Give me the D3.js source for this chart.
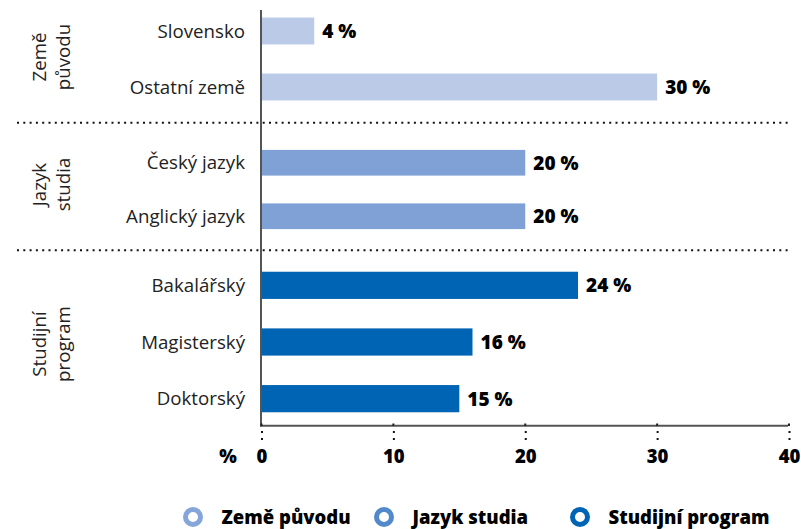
<!DOCTYPE html>
<html>
<head>
<meta charset="utf-8">
<script src="https://cdn.jsdelivr.net/npm/d3@7"></script>
<style>
  html, body { margin: 0; padding: 0; background: #fff; }
  svg { display: block; }
  text { font-family: "Open Sans", "Noto Sans", sans-serif; }
</style>
</head>
<body>
<svg id="chart" width="801" height="529"></svg>
<script>
// ---- data ----
const groups = ["Země původu", "Jazyk studia", "Studijní program"];
const groupLabelLines = [["Země", "původu"], ["Jazyk", "studia"], ["Studijní", "program"]];
const categories = ["Slovensko", "Ostatní země", "Český jazyk", "Anglický jazyk", "Bakalářský", "Magisterský", "Doktorský"];
const categoryGroup = [0, 0, 1, 1, 2, 2, 2];
const values = [4, 30, 20, 20, 24, 16, 15];
const xTicks = [0, 10, 20, 30, 40];
const axisUnit = "%";

// ---- styles ----
const barColors = ["#bacae7", "#7fa1d5", "#0064b4"];
const legendColors = ["#86a5d9", "#5289cb", "#0064b4"];

const svg = d3.select("#chart");

const x = d3.scaleLinear().domain([0, 40]).range([261.5, 789]);

const groupRanges = [[3, 115], [136, 243], [257, 427]];
const yScales = groups.map((g, gi) =>
  d3.scaleBand()
    .domain(categories.filter((c, i) => categoryGroup[i] === gi))
    .range(groupRanges[gi])
    .paddingInner(0.52)
    .paddingOuter(0.26)
);
const yOf = i => yScales[categoryGroup[i]](categories[i]);
const bw = i => yScales[categoryGroup[i]].bandwidth();

// separators
const sepYs = [122.7, 250.3];
svg.selectAll("line.sep").data(sepYs).enter().append("line")
  .attr("class", "sep")
  .attr("x1", 17).attr("x2", 790)
  .attr("y1", d => d).attr("y2", d => d)
  .attr("stroke", "#111").attr("stroke-width", 2)
  .attr("stroke-dasharray", "2 4.3");

// bars
svg.selectAll("rect.bar").data(values).enter().append("rect")
  .attr("class", "bar")
  .attr("x", x(0) + 0.5)
  .attr("y", (d, i) => yOf(i))
  .attr("width", d => x(d) - x(0) - 0.5)
  .attr("height", (d, i) => bw(i))
  .attr("fill", (d, i) => barColors[categoryGroup[i]]);

// value labels
svg.selectAll("text.val").data(values).enter().append("text")
  .attr("class", "val")
  .attr("x", d => x(d) + 8)
  .attr("y", (d, i) => yOf(i) + bw(i) / 2)
  .attr("dy", "0.36em")
  .attr("font-size", 19)
  .attr("font-weight", 800)
  .attr("fill", "#000")
  .text(d => d + " %");

// category labels
svg.selectAll("text.cat").data(categories).enter().append("text")
  .attr("class", "cat")
  .attr("x", 245)
  .attr("y", (d, i) => yOf(i) + bw(i) / 2)
  .attr("dy", "0.36em")
  .attr("text-anchor", "end")
  .attr("font-size", 18.7)
  .attr("fill", "#222")
  .text(d => d);

// group labels (rotated)
const groupNudge = [-2, -5, 2];
groups.forEach((g, gi) => {
  const dom = yScales[gi].domain();
  const sc = yScales[gi];
  const cy = (sc(dom[0]) + sc(dom[dom.length - 1]) + sc.bandwidth()) / 2 + groupNudge[gi];
  const t = svg.append("text")
    .attr("transform", `translate(46,${cy}) rotate(-90)`)
    .attr("text-anchor", "middle")
    .attr("font-size", 18.7)
    .attr("fill", "#222");
  groupLabelLines[gi].forEach((ln, li) => {
    t.append("tspan").attr("x", 0).attr("y", li * 24).text(ln);
  });
});

// vertical axis line
svg.append("line")
  .attr("x1", 261).attr("x2", 261)
  .attr("y1", 10).attr("y2", 426.5)
  .attr("stroke", "#555").attr("stroke-width", 2);

// bottom axis line
svg.append("line")
  .attr("x1", 260).attr("x2", x(40) - 1)
  .attr("y1", 425.7).attr("y2", 425.7)
  .attr("stroke", "#555").attr("stroke-width", 2);

// bottom axis (d3)
const xAxis = d3.axisBottom(x).tickValues(xTicks).tickSize(10).tickPadding(0);
const ax = svg.append("g").attr("transform", "translate(0,431)").call(xAxis);
ax.select(".domain").remove();
ax.selectAll(".tick line")
  .attr("stroke", "#111").attr("stroke-width", 2)
  .attr("stroke-dasharray", "2 5");
ax.selectAll(".tick text")
  .attr("y", 32).attr("dy", 0)
  .attr("font-family", "'Open Sans', sans-serif")
  .attr("font-size", 18.5)
  .attr("font-weight", 800)
  .attr("fill", "#000");
// small marks on axis line
svg.selectAll("rect.tm").data(xTicks).enter().append("rect")
  .attr("class", "tm")
  .attr("x", d => x(d) - 1).attr("y", 423.5)
  .attr("width", 2).attr("height", 2.5)
  .attr("fill", "#222");

// unit label
svg.append("text")
  .attr("x", 228).attr("y", 463)
  .attr("text-anchor", "middle")
  .attr("font-size", 18.5).attr("font-weight", 800)
  .attr("fill", "#000")
  .text(axisUnit);

// legend
const legendX = [193, 384, 580];
const lg = svg.selectAll("g.leg").data(groups).enter().append("g")
  .attr("class", "leg")
  .attr("transform", (d, i) => `translate(${legendX[i]},517)`);
lg.append("circle")
  .attr("r", 7.5)
  .attr("fill", "none")
  .attr("stroke", (d, i) => legendColors[i])
  .attr("stroke-width", 5);
lg.append("text")
  .attr("x", 28.5)
  .attr("dy", "0.36em")
  .attr("font-size", 18.5)
  .attr("font-weight", 800)
  .attr("fill", "#000")
  .text(d => d);
</script>
</body>
</html>
